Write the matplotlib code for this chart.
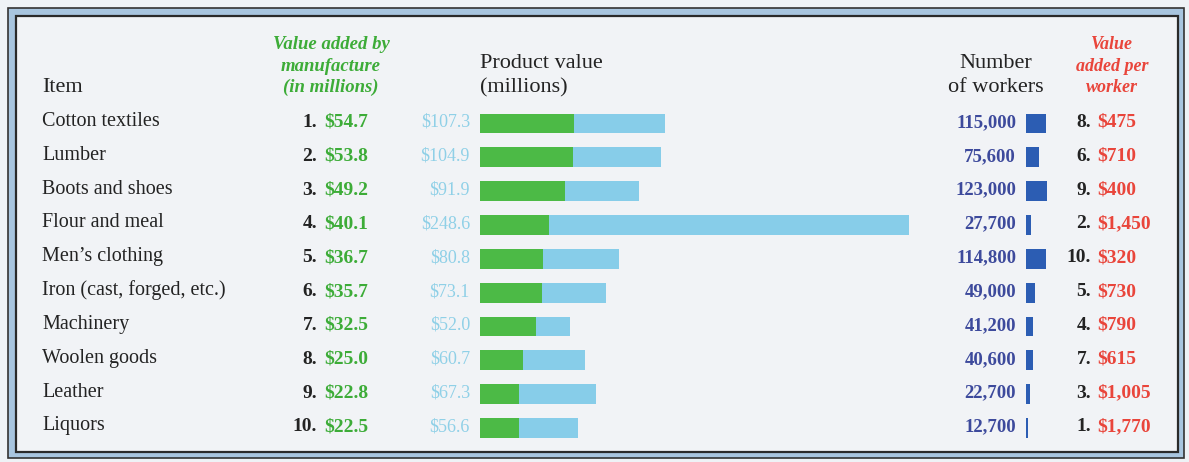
import matplotlib
matplotlib.use("Agg")
import matplotlib.pyplot as plt
from matplotlib.patches import Rectangle

# ---------------- data ----------------
items = ["Cotton textiles", "Lumber", "Boots and shoes", "Flour and meal",
         "Men\u2019s clothing", "Iron (cast, forged, etc.)", "Machinery",
         "Woolen goods", "Leather", "Liquors"]
value_rank = [1, 2, 3, 4, 5, 6, 7, 8, 9, 10]
value_added = [54.7, 53.8, 49.2, 40.1, 36.7, 35.7, 32.5, 25.0, 22.8, 22.5]
product_value = [107.3, 104.9, 91.9, 248.6, 80.8, 73.1, 52.0, 60.7, 67.3, 56.6]
workers = [115000, 75600, 123000, 27700, 114800, 49000, 41200, 40600, 22700, 12700]
per_worker_rank = [8, 6, 9, 2, 10, 5, 4, 7, 3, 1]
per_worker = [475, 710, 400, 1450, 320, 730, 790, 615, 1005, 1770]

# ---------------- style ----------------
W, H = 1189, 462
SERIF = ["Liberation Serif", "DejaVu Serif"]
plt.rcParams["font.family"] = SERIF

DARK = "#232323"
GREEN_T = "#3dac38"
GREEN_B = "#4cba46"
BLUE_B = "#87cde9"
PV_T = "#8fd0e7"
WORK_T = "#3d4a9c"
WORK_B = "#2c5db3"
RED = "#e9453b"

fig = plt.figure(figsize=(W / 100, H / 100), dpi=100)
fig.patch.set_facecolor("#eef2f6")

ax = fig.add_axes([0, 0, 1, 1])
ax.set_xlim(0, W)
ax.set_ylim(H, 0)
ax.axis("off")

# frame
ax.add_patch(Rectangle((8, 8), 1176, 450, facecolor="#a8c5df", edgecolor="#333333", lw=1.2))
ax.add_patch(Rectangle((16, 16), 1162, 436, facecolor="#f1f3f6", edgecolor="#2a2a2a", lw=1.6))

# row geometry (layout)
row0, step = 123.5, 33.83
rows = [row0 + i * step for i in range(len(items))]
top = row0 - step / 2
bot = rows[-1] + step / 2

# ---------------- headers ----------------
ax.text(42, 92, "Item", fontsize=16, color=DARK, ha="left", va="baseline")
for txt, yb in zip(["Value added by", "manufacture", "(in millions)"], [49, 71, 92]):
    ax.text(331, yb, txt, fontsize=13.5, color=GREEN_T, style="italic",
            weight="bold", ha="center", va="baseline")
ax.text(480, 68, "Product value", fontsize=16, color=DARK, ha="left", va="baseline")
ax.text(480, 92, "(millions)", fontsize=16, color=DARK, ha="left", va="baseline")
ax.text(996, 68, "Number", fontsize=16, color=DARK, ha="center", va="baseline")
ax.text(996, 92, "of workers", fontsize=16, color=DARK, ha="center", va="baseline")
for txt, yb in zip(["Value", "added per", "worker"], [49, 71, 92]):
    ax.text(1112, yb, txt, fontsize=13, color=RED, style="italic",
            weight="bold", ha="center", va="baseline")

# ---------------- row texts ----------------
for i, y in enumerate(rows):
    ax.text(42, y + 2.5, items[i], fontsize=14.5, color=DARK, ha="left", va="baseline")
    ax.text(317, y + 3.5, f"{value_rank[i]}.", fontsize=14, color=DARK,
            weight="bold", ha="right", va="baseline")
    ax.text(324, y + 3.5, f"${value_added[i]:.1f}", fontsize=14, color=GREEN_T,
            weight="bold", ha="left", va="baseline")
    ax.text(470, y + 3.5, f"${product_value[i]:.1f}", fontsize=13, color=PV_T,
            ha="right", va="baseline")
    ax.text(1016, y + 3.5, f"{workers[i]:,}", fontsize=13.5, color=WORK_T,
            weight="bold", ha="right", va="baseline")
    ax.text(1091, y + 3.5, f"{per_worker_rank[i]}.", fontsize=14, color=DARK,
            weight="bold", ha="right", va="baseline")
    ax.text(1097, y + 3.5, f"${per_worker[i]:,}", fontsize=14, color=RED,
            weight="bold", ha="left", va="baseline")

# ---------------- product value bars ----------------
ypos = list(range(len(items)))
ax_pv = fig.add_axes([480 / W, 1 - bot / H, (909 - 480) / W, (bot - top) / H])
ax_pv.barh(ypos, product_value, height=0.59, color=BLUE_B, lw=0)
ax_pv.barh(ypos, value_added, height=0.59, color=GREEN_B, lw=0)
ax_pv.set_xlim(0, max(product_value))
ax_pv.set_ylim(len(items) - 0.5, -0.5)
ax_pv.axis("off")

# ---------------- workers bars ----------------
ax_w = fig.add_axes([1026 / W, 1 - bot / H, 40 / W, (bot - top) / H])
ax_w.barh(ypos, workers, height=0.59, color=WORK_B, lw=0)
ax_w.set_xlim(0, 230000)
ax_w.set_ylim(len(items) - 0.5, -0.5)
ax_w.axis("off")

fig.savefig("out.png", dpi=100, facecolor=fig.get_facecolor())
